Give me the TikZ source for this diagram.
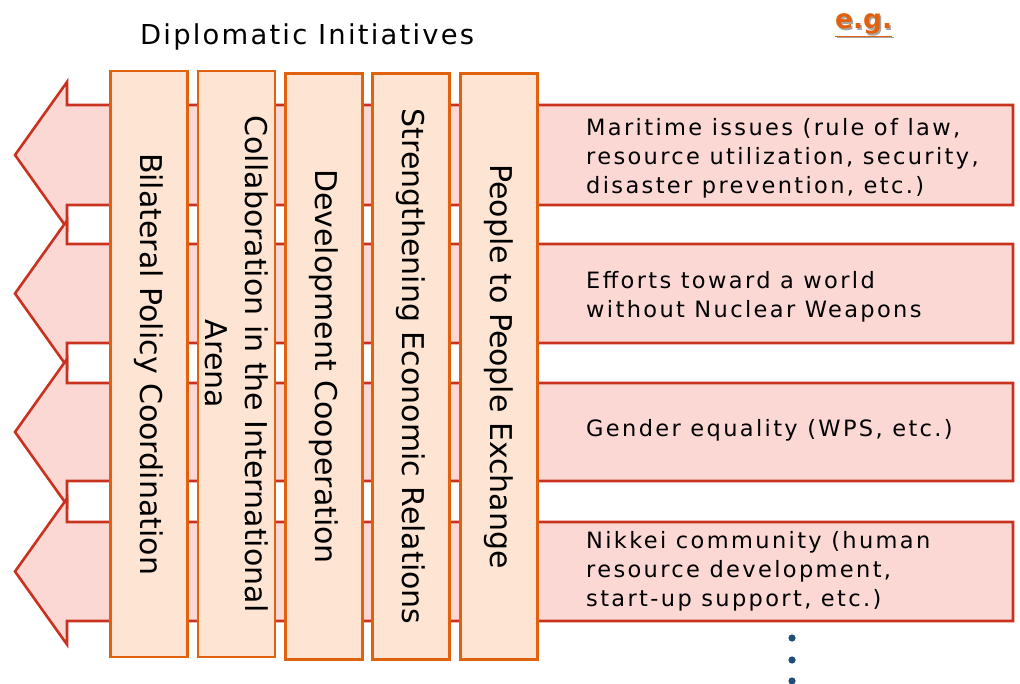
\documentclass[tikz,border=0pt]{standalone}
\usepackage{fontspec}
\setmainfont{DejaVu Sans}
\newfontfamily\itemfont[LetterSpace=10.5]{DejaVu Sans}
\newfontfamily\titlefont[LetterSpace=8]{DejaVu Sans}
\newfontfamily\vfont[LetterSpace=0]{DejaVu Sans}
\definecolor{arrfill}{HTML}{FBD8D3}
\definecolor{arrdraw}{HTML}{C8321E}
\definecolor{boxfill}{HTML}{FEE4D3}
\definecolor{boxdraw}{HTML}{E0610E}
\definecolor{egcol}{HTML}{E0620F}
\definecolor{dotcol}{HTML}{1F4E79}
\tikzset{
  arrowshape/.style={draw=arrdraw, fill=arrfill, line width=2.6pt, line join=miter},
  vbox/.style={draw=boxdraw, fill=boxfill, line width=2.8pt, rotate=-90, inner sep=0pt,
    minimum width=586pt, minimum height=77pt, align=center,
    font=\vfont\fontsize{30}{40}\selectfont},
  itemtext/.style={anchor=west, align=left, inner sep=0pt,
    font=\itemfont\fontsize{22.5}{29}\selectfont},
  dotstyle/.style={fill=dotcol, draw=none}
}
\newcommand{\leftarrowshape}[2]{%
  \pgfmathsetmacro{\cc}{(#1+#2)/2}
  \path[arrowshape] (1013,#1) -- (67,#1) -- (67,\cc-73) -- (15,\cc) -- (67,\cc+73) -- (67,#2) -- (1013,#2) -- cycle;
}
\begin{document}
\begin{tikzpicture}[x=1pt,y=-1pt]
\useasboundingbox (0,0) rectangle (1020,684);

% title
\node[font=\titlefont\fontsize{27.4}{32}\selectfont, anchor=base west, inner sep=0pt] (title) at (140,45) {Diplomatic Initiatives};
\node[font=\fontsize{26.5}{30}\selectfont\bfseries, text=black!35, anchor=base west, inner sep=0pt] (egshadow) at (836.5,30.5) {\underline{e.g.}};
\node[font=\fontsize{26.5}{30}\selectfont\bfseries, text=egcol, anchor=base west, inner sep=0pt] (eg) at (835,29) {\underline{e.g.}};

% arrows
\leftarrowshape{105}{205}
\leftarrowshape{244}{343}
\leftarrowshape{383}{481}
\leftarrowshape{522}{621}

% item texts
\node[itemtext] (t1) at (586,158) {Maritime issues (rule of law,\\resource utilization, security,\\disaster prevention, etc.)};
\node[itemtext] (t2) at (586,297) {Efforts toward a world\\without Nuclear Weapons};
\node[itemtext] (t3) at (586,430) {Gender equality (WPS, etc.)};
\node[itemtext] (t4) at (586,571) {Nikkei community (human\\resource development,\\start-up support, etc.)};

% vertical boxes
\node[vbox] (b1) at (149,364) {Bilateral Policy Coordination};
\node[vbox] (b2) at (236.5,364) {Collaboration in the International\\Arena};
\node[vbox] (b3) at (324,366.5) {Development Cooperation};
\node[vbox] (b4) at (411,366.5) {Strengthening Economic Relations};
\node[vbox] (b5) at (499,366.5) {People to People Exchange};

% dots
\fill[dotstyle] (792,638) circle (3.6);
\fill[dotstyle] (792,660) circle (3.6);
\fill[dotstyle] (792,681) circle (3.6);
\end{tikzpicture}
\end{document}
